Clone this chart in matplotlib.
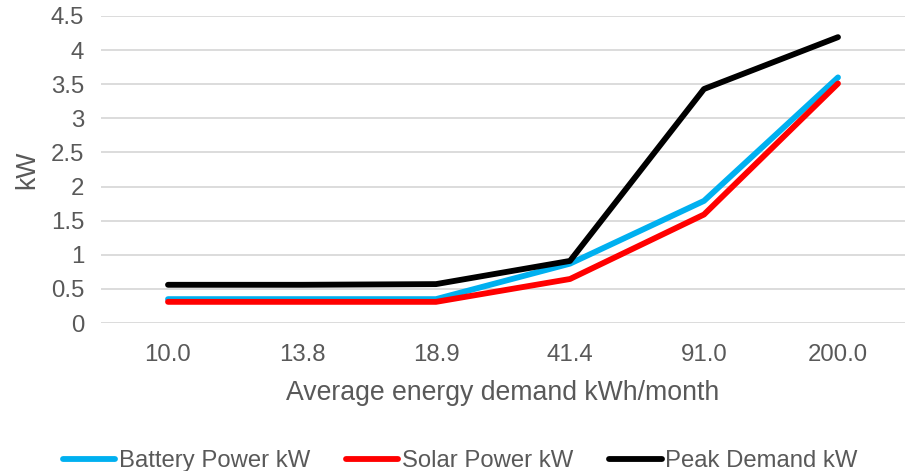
import matplotlib
matplotlib.use("Agg")
import matplotlib.pyplot as plt

categories = ["10.0", "13.8", "18.9", "41.4", "91.0", "200.0"]
battery = [0.35, 0.35, 0.35, 0.87, 1.79, 3.60]
solar = [0.31, 0.31, 0.31, 0.645, 1.59, 3.51]
peak = [0.56, 0.56, 0.57, 0.91, 3.43, 4.19]
yticks = [0, 0.5, 1, 1.5, 2, 2.5, 3, 3.5, 4, 4.5]
ytick_labels = ["0", "0.5", "1", "1.5", "2", "2.5", "3", "3.5", "4", "4.5"]

plt.rcParams['font.family'] = ['Liberation Sans', 'DejaVu Sans']
gray = "#595959"

fig = plt.figure(figsize=(9.15, 4.71), dpi=100)
ax = fig.add_axes([101/915, 1-323/471, 804/915, 307/471])

x = list(range(len(categories)))
lw = 4.2
ax.plot(x, battery, color="#00B0F0", lw=lw, solid_capstyle="round", label="Battery Power kW", zorder=3)
ax.plot(x, solar, color="#FF0000", lw=lw, solid_capstyle="round", label="Solar Power kW", zorder=4)
ax.plot(x, peak, color="#000000", lw=lw, solid_capstyle="round", label="Peak Demand kW", zorder=5)

ax.set_xlim(-0.5, len(categories) - 0.5)
ax.set_ylim(0, 4.5)
ax.set_yticks(yticks)
ax.set_yticklabels(ytick_labels)
ax.set_xticks(x)
ax.set_xticklabels(categories)
ax.grid(axis="y", color="#d9d9d9", lw=1.3)
ax.set_axisbelow(True)
for s in ax.spines.values():
    s.set_visible(False)
ax.tick_params(axis="y", length=0, labelsize=17.3, colors=gray, pad=12)
ax.tick_params(axis="x", length=0, labelsize=17.3, colors=gray, pad=15)
ax.set_xlabel("Average energy demand kWh/month", fontsize=19.2, color=gray, labelpad=10)
ax.set_ylabel("kW", fontsize=19.2, color=gray, labelpad=8)

leg = fig.legend(loc="center", bbox_to_anchor=(460/915, 1-461/471), ncol=3, frameon=False,
                 fontsize=17.2, handlelength=2.2, handletextpad=0.15, columnspacing=1.5,
                 labelcolor=gray)

fig.savefig("out.png", dpi=100)
